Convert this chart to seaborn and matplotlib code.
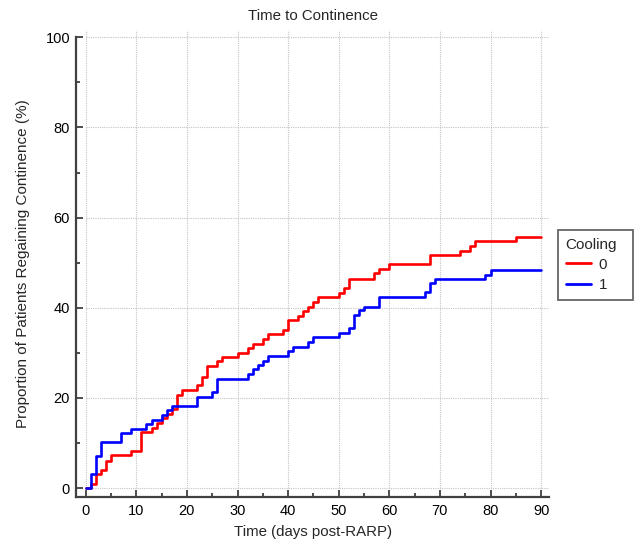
import matplotlib
matplotlib.use("Agg")
import matplotlib.pyplot as plt
import seaborn as sns
import pandas as pd
from matplotlib.ticker import MultipleLocator

# Kaplan-Meier style step data
red_days = [0, 1, 2, 3, 4, 5, 9, 11, 13, 14, 15, 16, 17, 18, 19, 22, 23, 24, 26, 27,
            30, 32, 33, 35, 36, 39, 40, 42, 43, 44, 45, 46, 50, 51, 52, 57, 58, 60,
            68, 74, 76, 77, 85, 90]
red_pct = [0, 0.9, 3, 4, 6.1, 7.3, 8.3, 12.4, 13.4, 14.5, 15.5, 16.4, 17.6, 20.6, 21.7,
           22.8, 24.7, 27, 28.1, 29.1, 29.9, 31, 32, 33, 34.1, 35.1, 37.2, 38.1, 39.2,
           40.1, 41.3, 42.3, 43.3, 44.3, 46.4, 47.6, 48.6, 49.7, 51.6, 52.5, 53.6,
           54.7, 55.7, 55.7]

blue_days = [0, 1, 2, 3, 7, 9, 12, 13, 15, 16, 17, 22, 25, 26, 32, 33, 34, 35, 36, 40,
             41, 44, 45, 50, 52, 53, 54, 55, 58, 67, 68, 69, 79, 80, 90]
blue_pct = [0, 3, 7.1, 10.2, 12.1, 13.1, 14.1, 15, 16.2, 17.3, 18.1, 20.2, 21.3, 24.2,
            25.3, 26.3, 27.2, 28.2, 29.3, 30.4, 31.2, 32.3, 33.4, 34.3, 35.5, 38.3,
            39.4, 40.1, 42.3, 43.6, 45.5, 46.4, 47.3, 48.4, 48.4]

groups = ["0", "1"]
colors = {"0": "#ff0000", "1": "#0000ff"}

df = pd.concat([
    pd.DataFrame({"day": red_days, "pct": red_pct, "Cooling": groups[0]}),
    pd.DataFrame({"day": blue_days, "pct": blue_pct, "Cooling": groups[1]}),
], ignore_index=True)

sns.set_theme(style="white")
plt.rcParams["font.family"] = ["Liberation Sans", "DejaVu Sans"]

fig = plt.figure(figsize=(6.35, 5.41), dpi=100)
ax = fig.add_axes([0.1197, 0.0813, 0.7452, 0.8639])

x_lo, x_hi = -1.92, 91.6
y_lo, y_hi = -2.0, 101.7

# dotted grid restricted to the data range
grid_kw = dict(color="#c4c4c4", linestyle=(0, (1, 1)), linewidth=0.8, zorder=0)
ax.vlines(range(0, 91, 10), 0, y_hi, **grid_kw)
ax.hlines(range(0, 101, 20), 0, x_hi, **grid_kw)

sns.lineplot(data=df, x="day", y="pct", hue="Cooling", palette=colors,
             drawstyle="steps-post", estimator=None, linewidth=1.9, ax=ax)

ax.xaxis.set_major_locator(MultipleLocator(10))
ax.xaxis.set_minor_locator(MultipleLocator(5))
ax.yaxis.set_major_locator(MultipleLocator(20))
ax.yaxis.set_minor_locator(MultipleLocator(10))

for side in ["top", "right"]:
    ax.spines[side].set_visible(False)
for side in ["left", "bottom"]:
    ax.spines[side].set_color("#404040")
    ax.spines[side].set_linewidth(1.6)
ax.spines["left"].set_bounds(y_lo, 100)

ax.tick_params(which="both", direction="in", color="#404040", width=1.3,
               left=True, bottom=True, labelsize=10.5, labelcolor="black")
ax.tick_params(which="major", length=5)
ax.tick_params(which="minor", length=3)
ax.tick_params(axis="y", which="major", pad=4.3)
ax.tick_params(axis="x", which="major", pad=5.3)
ax.set_xticks(range(0, 91, 10))
ax.set_yticks(range(0, 101, 20))
ax.set_xlim(x_lo, x_hi)
ax.set_ylim(y_lo, y_hi)

ax.set_title("Time to Continence", fontsize=10.8, pad=7)
ax.set_xlabel("Time (days post-RARP)", fontsize=10.8, labelpad=5)
ax.set_ylabel("Proportion of Patients Regaining Continence (%)", fontsize=11, labelpad=11)

leg = ax.legend(title="Cooling", loc="upper left",
                bbox_to_anchor=(558 / 635, 1 - 230 / 541, 75 / 635, 0),
                bbox_transform=fig.transFigure, mode="expand",
                frameon=True, fancybox=False,
                fontsize=11, title_fontsize=11, alignment="left",
                handlelength=1.65, borderpad=0.5, labelspacing=0.4,
                handletextpad=0.5, borderaxespad=0)
leg.get_frame().set_edgecolor("#404040")
leg.get_frame().set_linewidth(1.3)
for line in leg.get_lines():
    line.set_linewidth(2.0)

fig.savefig("out.png", dpi=100)
